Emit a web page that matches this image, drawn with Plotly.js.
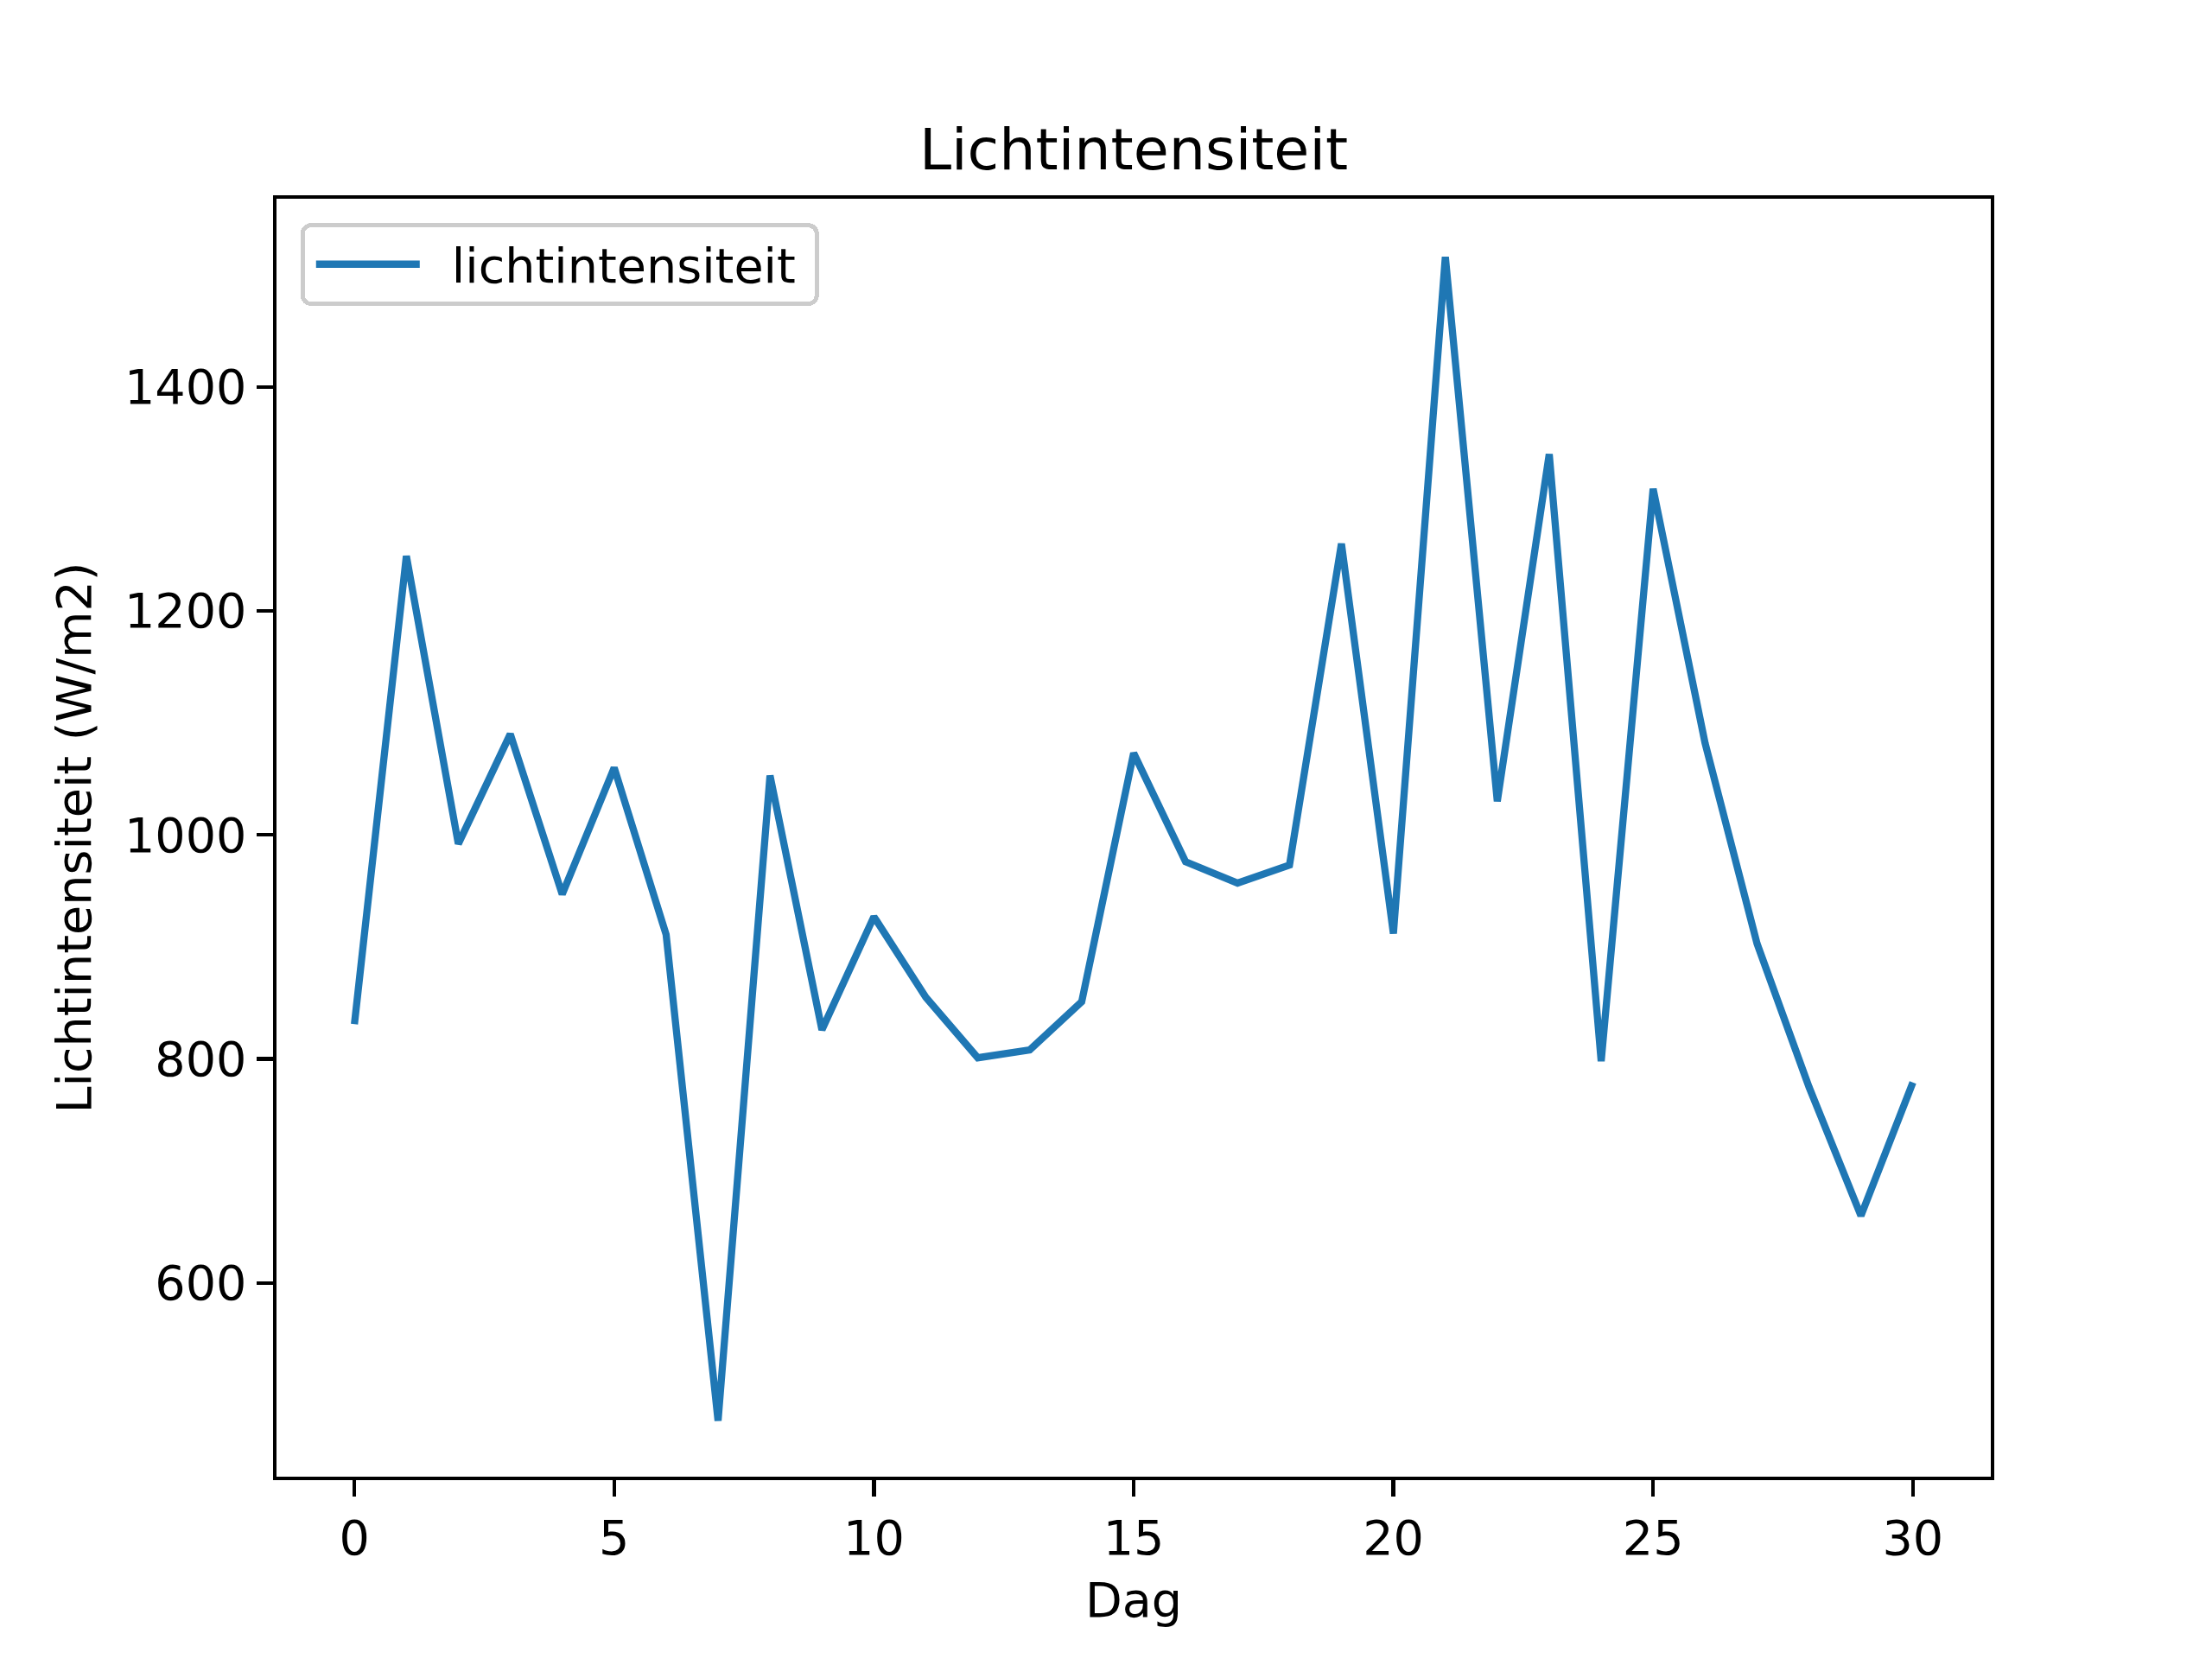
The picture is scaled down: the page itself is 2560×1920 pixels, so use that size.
<!DOCTYPE html>
<html>
<head>
<meta charset="utf-8">
<script src="https://cdn.plot.ly/plotly-3.0.1.min.js"></script>
<style>html,body{margin:0;padding:0;background:#fff;}#chart{width:2560px;height:1920px;}</style>
</head>
<body>
<div id="chart"></div>
<script>
const days = [0,1,2,3,4,5,6,7,8,9,10,11,12,13,14,15,16,17,18,19,20,21,22,23,24,25,26,27,28,29,30];
const lichtintensiteit = [831,1249,992,1090,947,1060,911,477,1053,826,927,855,801,808,851,1073,976,957,973,1260,912,1516,1030,1340,798,1309,1082,903,775,660,779];
const seriesName = "lichtintensiteit";
const xTicks = [0,5,10,15,20,25,30];
const yTicks = [600,800,1000,1200,1400];
const titleText = "Lichtintensiteit";
const xTitle = "Dag";
const yTitle = "Lichtintensiteit (W/m2)";

const font = "DejaVu Sans, sans-serif";
const axisCommon = {
  showline: true, mirror: true, linecolor: "#000", linewidth: 4.4,
  ticks: "outside", ticklen: 19, tickwidth: 4.4, tickcolor: "#000",
  showgrid: false, zeroline: false,
  tickfont: {family: font, size: 55.6, color: "#000"},
  tickmode: "array"
};
const trace = {
  x: days, y: lichtintensiteit, type: "scatter", mode: "lines", name: seriesName,
  line: {color: "#1f77b4", width: 8.3}
};
const layout = {
  width: 2560, height: 1920,
  margin: {l: 320, r: 256, t: 230, b: 211, pad: 0},
  paper_bgcolor: "#fff", plot_bgcolor: "#fff",
  showlegend: true,
  title: {text: titleText, font: {family: font, size: 66.7, color: "#000"},
          x: 0.5, xref: "paper", xanchor: "center", y: 1, yref: "paper", yanchor: "bottom", pad: {b: 34}},
  xaxis: Object.assign({}, axisCommon, {
    range: [-1.5, 31.5], tickvals: xTicks, ticktext: xTicks.map(String),
    title: {text: xTitle, font: {family: font, size: 55.6, color: "#000"}, standoff: 22}
  }),
  yaxis: Object.assign({}, axisCommon, {
    range: [427, 1568], tickvals: yTicks, ticktext: yTicks.map(String),
    title: {text: yTitle, font: {family: font, size: 55.6, color: "#000"}, standoff: 22}
  }),
  legend: {
    x: 0.014, y: 0.981, xanchor: "left", yanchor: "top",
    bgcolor: "rgba(255,255,255,0.8)", bordercolor: "#cccccc", borderwidth: 5,
    font: {family: font, size: 55.6, color: "#000"},
    itemwidth: 120
  }
};
Plotly.newPlot("chart", [trace], layout, {displayModeBar: false, staticPlot: true}).then(function (gd) {
  // matplotlib-style legend spacing: gap between sample line and label, rounded frame
  const lg = gd.querySelector(".legend");
  if (!lg) return;
  const itemShift = 8, textShift = 32, widen = 56;
  lg.querySelectorAll("[clip-path]").forEach(function (e) { e.removeAttribute("clip-path"); });
  lg.querySelectorAll(".traces").forEach(function (t) {
    const tr = t.getAttribute("transform") || "";
    t.setAttribute("transform", tr + " translate(" + itemShift + ",0)");
  });
  lg.querySelectorAll(".legendtext").forEach(function (txt) {
    const x0 = parseFloat(txt.getAttribute("x")) || 0;
    txt.setAttribute("x", x0 + textShift);
    txt.querySelectorAll("tspan.line").forEach(function (s) {
      const sx = parseFloat(s.getAttribute("x")) || 0;
      s.setAttribute("x", sx + textShift);
    });
  });
  const bg = lg.querySelector("rect.bg");
  if (bg) {
    bg.setAttribute("width", parseFloat(bg.getAttribute("width")) + widen);
    bg.setAttribute("rx", 10);
    bg.setAttribute("ry", 10);
  }
});
</script>
</body>
</html>
